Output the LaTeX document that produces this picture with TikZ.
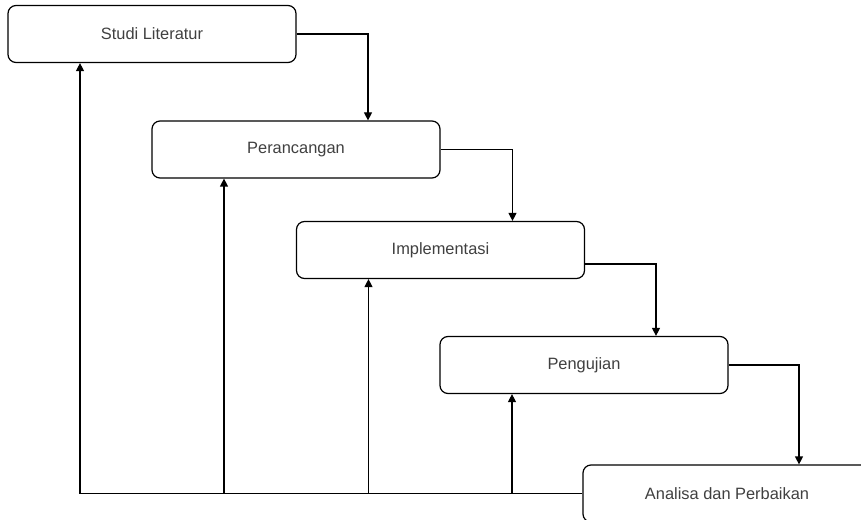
\documentclass[tikz,border=0pt]{standalone}
\usepackage{fontspec}
\setmainfont{Liberation Sans}
\usetikzlibrary{arrows.meta}
\begin{document}
\begin{tikzpicture}[
    x=0.75pt, y=-0.75pt,
    tahap/.style={draw, rounded corners=6pt, line width=0.9pt, minimum width=216pt,
        minimum height=42.75pt, inner sep=0pt, text=black!75, font=\fontsize{12.3}{14}\selectfont},
    alur/.style={->, line width=0.9pt},
    >={Triangle[width=6pt,length=6pt]}
]
\clip (0,0) rectangle (861,520);
\fill[white] (0,0) rectangle (861,520);

\node[tahap] (studi) at (152,34) {Studi Literatur};
\node[tahap] (rancang) at (296,149.5) {Perancangan};
\node[tahap] (implem) at (440.5,250) {Implementasi};
\node[tahap] (uji) at (584,365) {Pengujian};
\node[tahap] (analisa) at (727,493.5) {Analisa dan Perbaikan};

\draw[alur] (studi.east) -| ([xshift=54pt]rancang.north);
\draw[alur] (rancang.east) -| ([xshift=54pt]implem.north);
\draw[alur] ([yshift=-10.5pt]implem.east) -| ([xshift=54pt]uji.north);
\draw[alur] (uji.east) -| ([xshift=54pt]analisa.north);

\draw[alur] (analisa.west) -| ([xshift=-54pt]studi.south);
\draw[alur] ([xshift=-54pt]rancang.south |- analisa.west) -- ([xshift=-54pt]rancang.south);
\draw[alur] ([xshift=-54pt]implem.south |- analisa.west) -- ([xshift=-54pt]implem.south);
\draw[alur] ([xshift=-54pt]uji.south |- analisa.west) -- ([xshift=-54pt]uji.south);
\end{tikzpicture}
\end{document}
